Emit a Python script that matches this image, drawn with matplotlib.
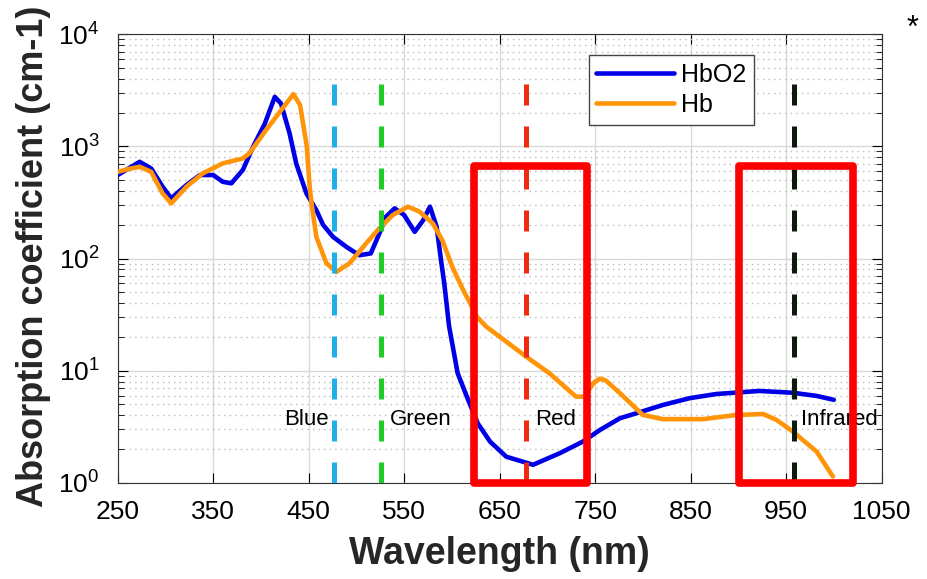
import numpy as np
import matplotlib
matplotlib.use("Agg")
from matplotlib import pyplot as plt
from matplotlib.patches import Rectangle

# espectros de absorcion (nm, cm-1)
wl_hbo2 = [250, 262, 273, 285, 297, 306, 322, 336, 350, 360, 369, 381, 392, 404, 414.5,
           421, 430, 437, 447.6, 458, 465, 475.5, 489.5, 503, 515, 524, 531, 540, 550,
           561, 570, 577, 584, 589, 592, 597, 606, 617, 627, 640, 657, 685, 713, 737,
           755, 776, 793, 821, 849, 877, 922, 957, 982, 1000]
hbo2 = [555, 640, 728, 635, 437, 344, 452, 555, 555, 483, 468, 615, 1000, 1590, 2760,
        2410, 1303, 700, 381, 270, 200, 156, 127, 107, 111, 167, 236, 280, 244,
        173, 220, 290, 192, 91, 60, 25, 9.5, 5.5, 3.4, 2.33, 1.71, 1.45, 1.84, 2.33,
        2.96, 3.77, 4.17, 4.95, 5.69, 6.2, 6.6, 6.36, 5.96, 5.5]

wl_hb = [250, 262, 273, 285, 297, 306, 322, 339, 360, 381, 388, 404, 420, 434, 441,
         448, 451, 453, 458, 468.5, 479, 493, 510, 524, 538, 554, 566, 580, 590, 601,
         612, 619, 626, 636, 678, 702, 730, 739, 748, 755, 761, 776, 800, 821, 863,
         898, 926, 940, 957, 982, 999]
hb = [593, 630, 657, 593, 381, 310, 437, 574, 705, 780, 868, 1350, 2040, 2920, 2330,
      1000, 437, 310, 156, 91, 76, 91, 136, 186, 244, 290, 262, 206, 145, 82,
      52, 40, 30.3, 24.7, 13.3, 9.5, 5.87, 5.87, 7.73, 8.5, 8.2, 6.3, 4.03, 3.7, 3.7,
      4.03, 4.11, 3.64, 2.87, 1.9, 1.14]

# lineas de referencia de cada color
band_wl = [476, 526, 678, 958]
band_colors = ['#1fb0e8', '#1ecc2a', '#f02a10', '#0c1a0c']
band_names = ['Blue', 'Green', 'Red', 'Infrared']
name_x = [471, 535, 687, 966]
name_align = ['right', 'left', 'left', 'left']

# ventanas resaltadas (inicio, fin)
boxes = [(623, 742), (901, 1020)]

plt.rcParams['font.family'] = ['Liberation Sans', 'DejaVu Sans']
plt.rcParams['mathtext.fontset'] = 'custom'
plt.rcParams['mathtext.rm'] = 'Liberation Sans'
plt.rcParams['mathtext.it'] = 'Liberation Sans'

fig = plt.figure(figsize=(9.27, 5.79), dpi=100)
ax = fig.add_axes([0.127, 0.166, 0.824, 0.775])

ax.plot(wl_hbo2, hbo2, color='#0000e6', lw=3.3, label='HbO2', zorder=4,
        solid_joinstyle='round', solid_capstyle='round')
ax.plot(wl_hb, hb, color='#ff9408', lw=3.3, label='Hb', zorder=5,
        solid_joinstyle='round', solid_capstyle='round')

for w, c in zip(band_wl, band_colors):
    ax.plot([w, w], [3600, 1], color=c, lw=3.6, dashes=(4.2, 4.2), zorder=6)

for n, x, ha in zip(band_names, name_x, name_align):
    ax.text(x, 3.64, n, ha=ha, va='center', fontsize=16, zorder=7)

for a, b in boxes:
    ax.add_patch(Rectangle((a, 1), b - a, 665 - 1, fill=False, ec='#ff0000', lw=5.5,
                           joinstyle='round', zorder=8, clip_on=False))

ax.set_yscale('log')
ax.set_xlim(250, 1050)
ax.set_ylim(1, 1e4)
ax.set_xticks(np.arange(250, 1051, 100))
ax.tick_params(axis='both', which='both', direction='in', top=True, right=True,
               labelsize=19)
ax.tick_params(axis='x', pad=12)
ax.tick_params(axis='y', pad=13)
ax.tick_params(which='major', length=7)
ax.tick_params(which='minor', length=4)
ax.grid(True, which='major', color='#d9d9d9', lw=1.0)
ax.grid(True, which='minor', axis='y', color='#bbbbbb', lw=1.0, ls=(0, (1, 3)))
for s in ax.spines.values():
    s.set_color('#333333')

ax.set_xlabel('Wavelength (nm)', fontsize=27, fontweight='bold', color='#262626',
              labelpad=9)
ax.set_ylabel('Absorption coefficient (cm-1)', fontsize=26, fontweight='bold',
              color='#262626')
ax.yaxis.set_label_coords(-0.088, 0.505)

leg = ax.legend(loc='upper left', bbox_to_anchor=(0.6165, 0.953), fontsize=18,
                handlelength=3.1, fancybox=False, framealpha=1, edgecolor='#444444',
                borderpad=0.3, labelspacing=0.25, handletextpad=0.3, borderaxespad=0)
leg.get_frame().set_linewidth(1.0)

fig.text(0.984, 0.95, '*', fontsize=22, ha='center', va='center')

plt.savefig('out.png', dpi=100)
